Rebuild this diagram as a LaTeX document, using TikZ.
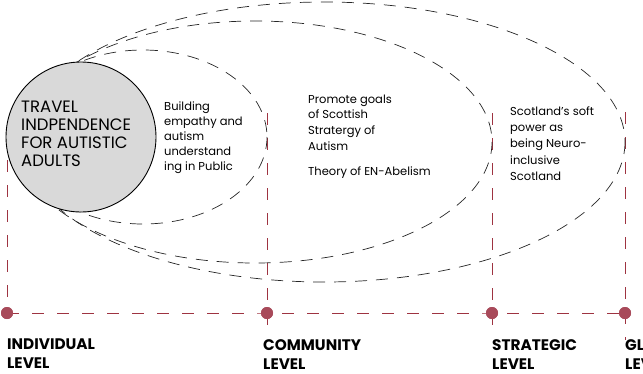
\documentclass[tikz,border=0pt]{standalone}
\usepackage{fontspec}
\setmainfont{Poppins}
\definecolor{lvlred}{HTML}{9E3341}
\definecolor{dotred}{HTML}{A84A5A}
\definecolor{circgray}{HTML}{D9D9D9}
\begin{document}
\begin{tikzpicture}[x=1pt,y=-1pt,
  ring/.style={draw=black!85,line width=0.7pt,dash pattern=on 12pt off 9pt},
  lvlline/.style={draw=lvlred,line width=0.8pt,dash pattern=on 12pt off 13pt},
  lvldot/.style={circle,fill=dotred,inner sep=0pt,minimum size=12pt},
  lvllabel/.style={anchor=north west,align=left,inner sep=0pt,font=\fontsize{15.3}{19}\selectfont\bfseries},
  body/.style={anchor=north west,align=left,inner sep=0pt},
  core/.style={circle,fill=circgray,draw=black,line width=0.9pt,minimum size=150pt,inner sep=0pt}]
\clip (0,0) rectangle (643,373);
% level dots
\node[lvldot] (d1) at (7,313) {};
\node[lvldot] (d2) at (267,313) {};
\node[lvldot] (d3) at (492,313) {};
\node[lvldot] (d4) at (625,313) {};
\coordinate (t1) at (7,135);
\coordinate (t2) at (267,113);
\coordinate (t3) at (492,113);
\coordinate (t4) at (625,112);
\coordinate (b2) at (267,337);
\coordinate (b3) at (492,337);
\coordinate (b4) at (625,340);
\draw[lvlline] (d1.center) -- (d2.center) -- (d3.center) -- (d4.center);
\draw[lvlline] (t1) -- (d1.center);
\draw[lvlline] (t2) -- (d2.center) -- (b2);
\draw[lvlline] (t3) -- (d3.center) -- (b3);
\draw[lvlline] (t4) -- (d4.center) -- (b4);
\node[lvldot] at (d1) {};
\node[lvldot] at (d2) {};
\node[lvldot] at (d3) {};
\node[lvldot] at (d4) {};
% rings
\draw[ring] (143,137) ellipse [x radius=124, y radius=87];
\draw[ring] (255,142) ellipse [x radius=237, y radius=121];
\draw[ring] (324,142) ellipse [x radius=301, y radius=140];
% core circle
\node[core] (core) at (81,137) {};
\node[body,font=\fontsize{16.5}{18}\selectfont] (coretext) at (21,100.5) {TRAVEL\\INDPENDENCE\\FOR AUTISTIC\\ADULTS};
% texts
\node[body,font=\fontsize{11.5}{15}\selectfont] (ring1) at (164,101.5) {Building\\empathy and\\autism\\understand\\ing in Public};
\node[body,font=\fontsize{11.5}{15.7}\selectfont] (ring2a) at (308,94.5) {Promote goals\\of Scottish\\Stratergy of\\Autism};
\node[body,font=\fontsize{11.5}{15.7}\selectfont] (ring2b) at (308,166.5) {Theory of EN-Abelism};
\node[body,font=\fontsize{11.5}{16.2}\selectfont] (ring3) at (510,106.5) {Scotland’s soft\\power as\\being Neuro-\\inclusive\\Scotland};
% labels
\node[lvllabel] (l1) at (7,339) {INDIVIDUAL\\LEVEL};
\node[lvllabel] (l2) at (263,339) {COMMUNITY\\LEVEL};
\node[lvllabel] (l3) at (492,339) {STRATEGIC\\LEVEL};
\node[lvllabel] (l4) at (625,339) {GLOBAL\\LEVEL};
\end{tikzpicture}
\end{document}
